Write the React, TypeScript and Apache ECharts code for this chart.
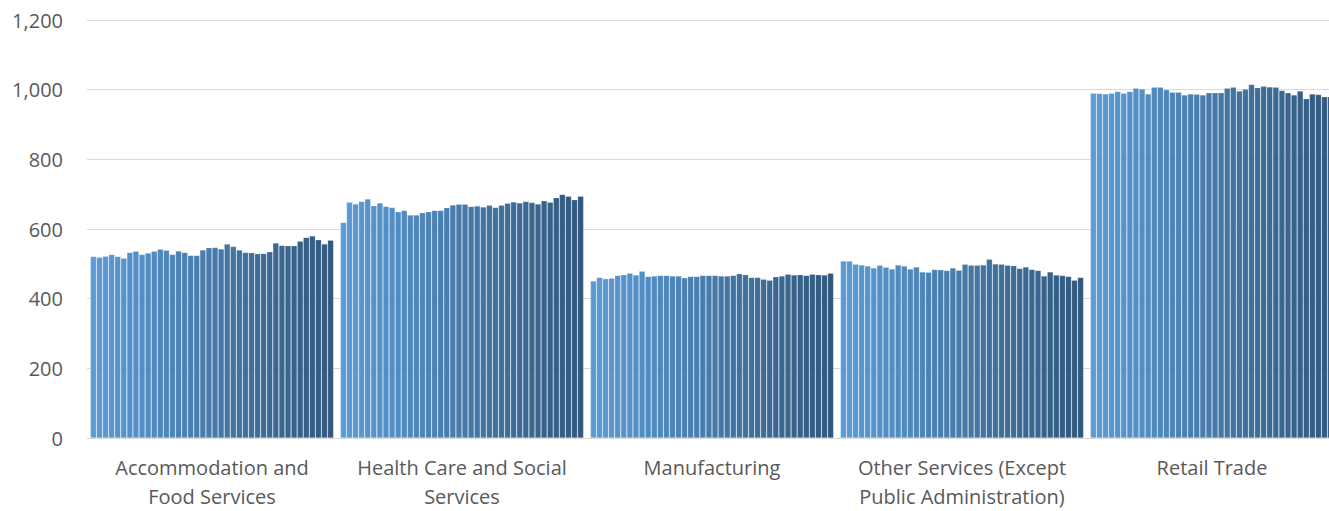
import React, { useEffect, useRef } from "react";
import * as echarts from "echarts";

const categories = [
  "Accommodation and Food Services",
  "Health Care and Social Services",
  "Manufacturing",
  "Other Services (Except Public Administration)",
  "Retail Trade",
];

const categoryLabels = [
  "Accommodation and\nFood Services",
  "Health Care and Social\nServices",
  "Manufacturing",
  "Other Services (Except\nPublic Administration)",
  "Retail Trade",
];

const yTicks = [0, 200, 400, 600, 800, 1000, 1200];

const accommodation = [521, 519, 522, 527, 521, 516, 533, 536, 527, 531, 536, 542, 539, 527, 537, 533, 524, 524, 540, 546, 547, 543, 557, 550, 540, 533, 532, 529, 530, 535, 560, 553, 552, 552, 565, 576, 580, 569, 557, 568];
const healthCare = [619, 677, 672, 679, 686, 667, 675, 665, 662, 650, 653, 640, 640, 647, 650, 653, 653, 661, 669, 671, 671, 665, 666, 663, 668, 662, 668, 674, 678, 675, 679, 676, 672, 681, 677, 690, 699, 694, 684, 694];
const manufacturing = [451, 461, 457, 459, 467, 469, 473, 468, 479, 464, 465, 467, 467, 465, 465, 460, 464, 464, 467, 467, 467, 465, 465, 467, 472, 469, 461, 461, 456, 453, 463, 465, 470, 468, 469, 467, 470, 469, 468, 473];
const otherServices = [508, 508, 499, 497, 494, 488, 496, 490, 485, 497, 494, 485, 491, 477, 476, 484, 483, 481, 488, 482, 499, 496, 496, 497, 513, 500, 499, 496, 495, 487, 491, 484, 481, 465, 477, 468, 467, 464, 453, 461];
const retailTrade = [990, 989, 988, 990, 995, 990, 995, 1004, 1002, 988, 1007, 1007, 1000, 993, 993, 985, 988, 987, 985, 991, 991, 991, 1004, 1007, 996, 1001, 1015, 1006, 1010, 1008, 1007, 998, 991, 985, 996, 974, 988, 986, 980, 980];

const groups = [accommodation, healthCare, manufacturing, otherServices, retailTrade];
const seriesCount = accommodation.length;

function mix(a: number[], b: number[], t: number) {
  const c = a.map((v, i) => Math.round(v + (b[i] - v) * t));
  return `rgb(${c[0]},${c[1]},${c[2]})`;
}

const LIGHT = [91, 155, 213];
const DARK = [49, 89, 126];

export default function App() {
  const ref = useRef<HTMLDivElement>(null);

  useEffect(() => {
    document.documentElement.style.overflow = "hidden";
    document.body.style.overflow = "hidden";
    document.body.style.margin = "0";
    if (!ref.current) return;
    const chart = echarts.init(ref.current, undefined, { renderer: "svg" });
    const series = Array.from({ length: seriesCount }, (_, s) => ({
      name: `Series ${s + 1}`,
      type: "bar" as const,
      barGap: "0%",
      barCategoryGap: "2.7%",
      data: groups.map((g) => g[s]),
      itemStyle: {
        color: mix(LIGHT, DARK, s / (seriesCount - 1)),
        borderColor: "rgba(255,255,255,0.3)",
        borderWidth: 0.6,
      },
    }));
    chart.setOption({
      animation: false,
      grid: { left: 87, right: 0, top: 20, bottom: 73, containLabel: false },
      xAxis: {
        type: "category",
        data: categories,
        axisLine: { show: true, lineStyle: { color: "#D9D9D9", width: 1 } },
        axisTick: { show: false },
        axisLabel: {
          interval: 0,
          margin: 15,
          color: "#595959",
          fontFamily: "Open Sans",
          fontSize: 20,
          lineHeight: 29,
          formatter: (_v: string, i: number) => categoryLabels[i],
        },
      },
      yAxis: {
        type: "value",
        min: yTicks[0],
        max: yTicks[yTicks.length - 1],
        interval: 200,
        axisLine: { show: false },
        axisTick: { show: false },
        splitLine: { lineStyle: { color: "#D9D9D9", width: 1 } },
        axisLabel: {
          margin: 24,
          color: "#595959",
          fontFamily: "Open Sans",
          fontSize: 20,
          formatter: (v: number) => v.toLocaleString("en-US"),
        },
      },
      series,
    });
    return () => chart.dispose();
  }, []);

  return (
    <div
      ref={ref}
      style={{ position: "fixed", left: 0, top: 0, width: 1337, height: 511, background: "#fff" }}
    />
  );
}
